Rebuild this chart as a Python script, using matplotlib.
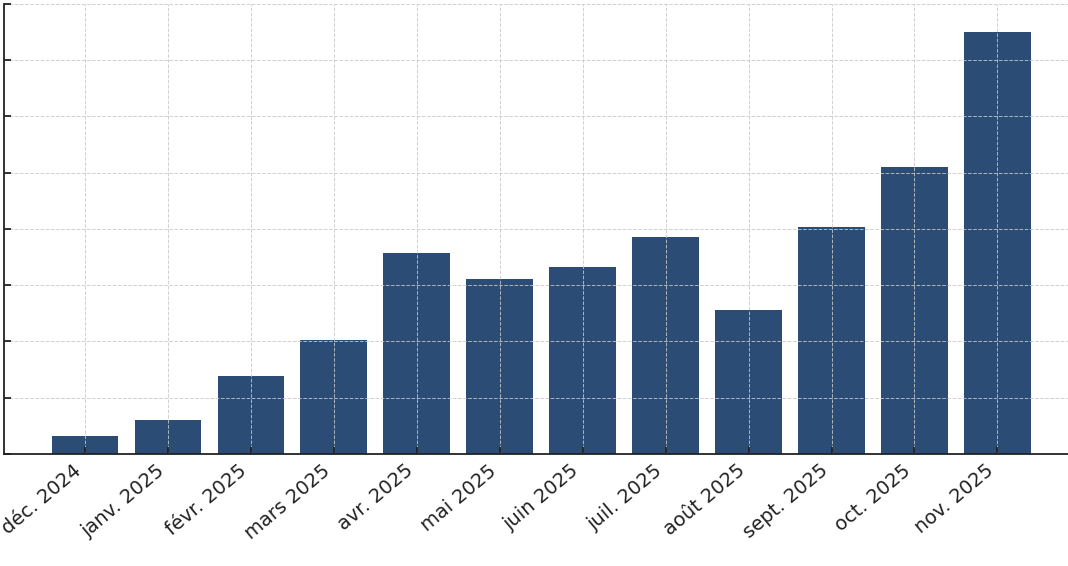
import matplotlib
matplotlib.use('Agg')
import matplotlib.pyplot as plt

# mois et valeurs (unité = une ligne de grille)
mois = ['déc. 2024', 'janv. 2025', 'févr. 2025', 'mars 2025', 'avr. 2025',
        'mai 2025', 'juin 2025', 'juil. 2025', 'août 2025', 'sept. 2025',
        'oct. 2025', 'nov. 2025']
valeurs = [0.32, 0.61, 1.38, 2.02, 3.57, 3.11, 3.32, 3.85, 2.56, 4.03, 5.10, 7.51]

fig = plt.figure(figsize=(10.68, 5.66), dpi=100)
ax = fig.add_axes([0.004, 0.198, 0.996, 0.795])

x = list(range(len(mois)))
ax.bar(x, valeurs, width=0.8, color='#2b4d75', zorder=1)

ax.set_xlim(-0.97, 11.85)
ax.set_ylim(0, 8)
ax.set_yticks(range(0, 9))
ax.set_yticklabels([])
ax.set_xticks(x)
ax.set_xticklabels(mois, rotation=40, ha='right', fontsize=14, color='#222222')

ax.grid(True, linestyle='--', linewidth=0.7, color='#c8c8c8', alpha=0.85, zorder=2)
ax.set_axisbelow(False)

for s in ['top', 'right']:
    ax.spines[s].set_visible(False)
for s in ['left', 'bottom']:
    ax.spines[s].set_linewidth(1.3)
    ax.spines[s].set_color('#222222')

ax.tick_params(axis='both', direction='in', length=5, width=1.3, color='#222222')
ax.tick_params(axis='x', pad=5)

fig.savefig('out.png', dpi=100)
